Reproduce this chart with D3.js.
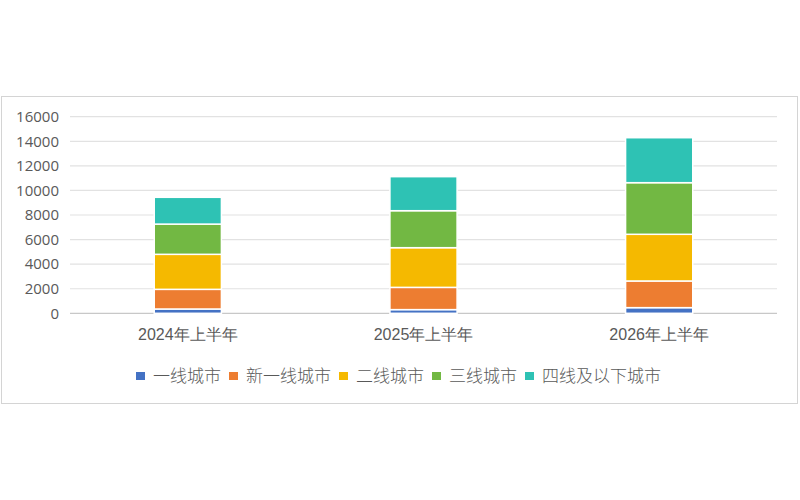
<!DOCTYPE html>
<html>
<head>
<meta charset="utf-8">
<script src="https://cdn.jsdelivr.net/npm/d3@7"></script>
<style>
  body { margin: 0; background: #fff; }
  svg { display: block; font-family: "Noto Sans CJK SC", "Noto Sans", sans-serif; }
</style>
</head>
<body>
<svg id="chart"></svg>
<script>
const categories = ['2024年上半年', '2025年上半年', '2026年上半年'];
const seriesNames = ['一线城市', '新一线城市', '二线城市', '三线城市', '四线及以下城市'];
const tier1 = [350, 300, 460];
const newTier1 = [1600, 1810, 2170];
const tier2 = [2850, 3230, 3800];
const tier3 = [2460, 3010, 4200];
const tier4 = [2180, 2770, 3660];
const yTicks = [0, 2000, 4000, 6000, 8000, 10000, 12000, 14000, 16000];

const colors = ['#4472c4', '#ed7d31', '#f5b900', '#72b843', '#2ec2b4'];
const seriesValues = [tier1, newTier1, tier2, tier3, tier4];

const width = 800, height = 500;
const margin = {left: 70, right: 23, top: 116.7, bottom: 186.7};

const svg = d3.select('#chart')
  .attr('width', width)
  .attr('height', height);

// chart frame
svg.append('rect')
  .attr('x', 1.5).attr('y', 96.5)
  .attr('width', 796).attr('height', 307)
  .attr('fill', '#fff')
  .attr('stroke', '#d4d4d4');

// build table for stacking
const table = categories.map((c, i) => {
  const row = {cat: c};
  seriesNames.forEach((s, j) => { row[s] = seriesValues[j][i]; });
  return row;
});
const stacked = d3.stack().keys(seriesNames)(table);

const x = d3.scaleBand()
  .domain(categories)
  .range([margin.left, width - margin.right]);

const y = d3.scaleLinear()
  .domain([0, 16000])
  .range([height - margin.bottom, margin.top]);

// gridlines
svg.append('g')
  .selectAll('line')
  .data(yTicks)
  .enter()
  .append('line')
  .attr('x1', margin.left)
  .attr('x2', width - margin.right)
  .attr('y1', d => y(d))
  .attr('y2', d => y(d))
  .attr('stroke', d => d === 0 ? '#c8c8c8' : '#e2e2e2')
  .attr('stroke-width', 1.2);

// y axis labels
const yAxis = d3.axisLeft(y)
  .tickValues(yTicks)
  .tickFormat(d3.format('d'))
  .tickSize(0)
  .tickPadding(11);
const yg = svg.append('g')
  .attr('transform', 'translate(' + (margin.left) + ',0)')
  .call(yAxis);
yg.select('.domain').remove();
yg.selectAll('text')
  .attr('fill', '#595959')
  .style('font-size', '15px')
  .style('font-family', '"Open Sans", "Noto Sans", sans-serif');

// bars
const barW = x.bandwidth() * 0.285;
svg.append('g')
  .selectAll('g')
  .data(stacked)
  .enter()
  .append('g')
  .attr('fill', (d, i) => colors[i])
  .selectAll('rect')
  .data(d => d)
  .enter()
  .append('rect')
  .attr('x', d => x(d.data.cat) + (x.bandwidth() - barW) / 2)
  .attr('y', d => y(d[1]))
  .attr('width', barW)
  .attr('height', d => y(d[0]) - y(d[1]))
  .attr('stroke', '#fff')
  .attr('stroke-width', 1.5);

// x axis labels
const xAxis = d3.axisBottom(x).tickSize(0).tickPadding(15);
const xg = svg.append('g')
  .attr('transform', 'translate(0,' + (height - margin.bottom) + ')')
  .call(xAxis);
xg.select('.domain').remove();
xg.selectAll('text')
  .attr('fill', '#595959')
  .style('font-size', '16px')
  .style('font-weight', 300);

// legend
const legend = svg.append('g').attr('transform', 'translate(136,376)');
let lx = 0;
seriesNames.forEach((name, i) => {
  const item = legend.append('g').attr('transform', 'translate(' + lx + ',0)');
  item.append('rect')
    .attr('x', 0).attr('y', -4)
    .attr('width', 9).attr('height', 8)
    .attr('fill', colors[i]);
  const t = item.append('text')
    .attr('x', 17)
    .attr('dy', '0.35em')
    .attr('fill', '#595959')
    .style('font-size', '17px')
    .style('font-weight', 300)
    .text(name);
  lx += 17 + t.node().getComputedTextLength() + 8;
});
</script>
</body>
</html>
